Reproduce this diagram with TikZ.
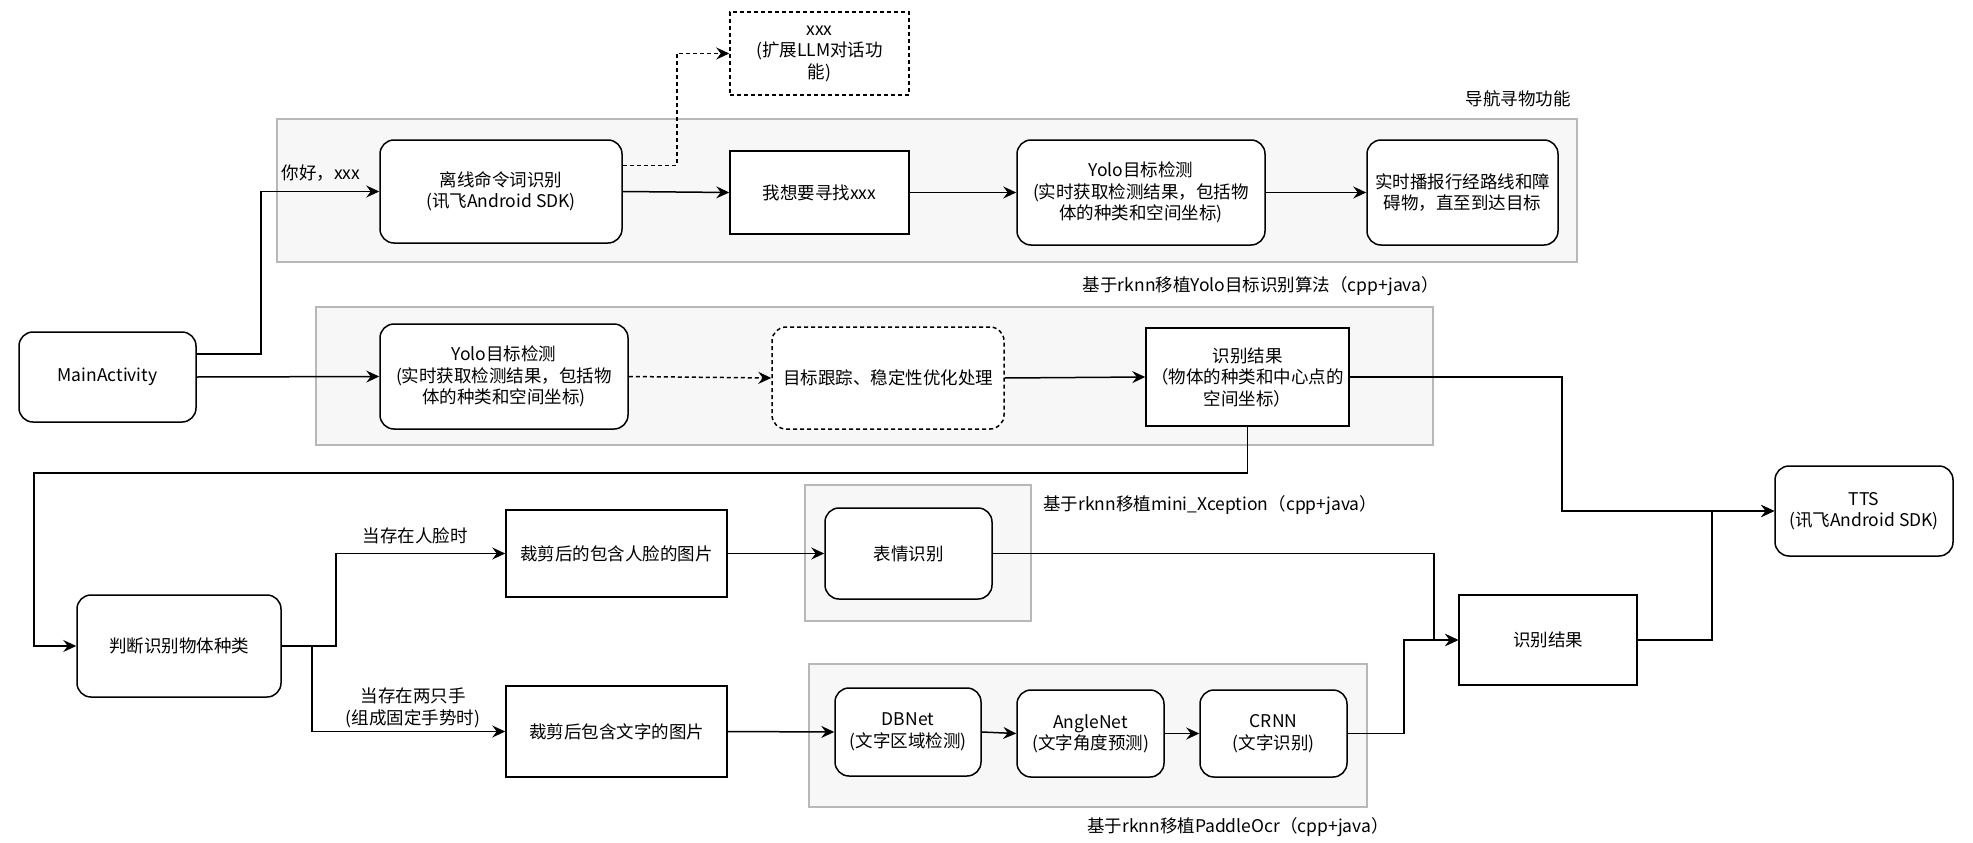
\documentclass[tikz,border=0pt]{standalone}
\usepackage{fontspec}
\setmainfont{Noto Sans CJK SC}
\usetikzlibrary{arrows.meta,calc}
\tikzset{
  box/.style={draw=black,line width=1.5pt,fill=white,align=center,inner sep=2pt},
  rbox/.style={box,rounded corners=14pt},
  dbox/.style={box,dash pattern=on 4pt off 3pt},
  bg/.style={draw=black!28,line width=1.5pt,fill=black!3},
  conn/.style={line width=1.5pt},
  arr/.style={conn,-{Stealth[length=13pt,width=12pt,inset=4.5pt]}},
  darr/.style={arr,dash pattern=on 4pt off 3pt},
  lbl/.style={align=center,inner sep=0pt},
}
\begin{document}
\begin{tikzpicture}[x=1pt,y=-1pt,font=\fontsize{17.5}{21.5}\selectfont]
\useasboundingbox[fill=white] (0,0) rectangle (1973,843);
% background groups
\draw[bg] (277,119) rectangle (1577,262);
\draw[bg] (316,307) rectangle (1433,445);
\draw[bg] (805,485) rectangle (1031,621);
\draw[bg] (809,664) rectangle (1367,807);
% nodes
\node[dbox,minimum width=179pt,minimum height=83pt] (xxx) at (819.5,53.5) {xxx\\(扩展LLM对话功\\能)};
\node[rbox,minimum width=242pt,minimum height=103pt] (cmd) at (501,191.5) {离线命令词识别\\(讯飞Android SDK)};
\node[box,minimum width=179pt,minimum height=83pt] (find) at (819.5,192.5) {我想要寻找xxx};
\node[rbox,minimum width=248pt,minimum height=105pt] (yolo1) at (1141,192.5) {Yolo目标检测\\(实时获取检测结果，包括物\\体的种类和空间坐标)};
\node[rbox,minimum width=191pt,minimum height=105pt] (report) at (1462.5,192.5) {实时播报行经路线和障\\碍物，直至到达目标};
\node[rbox,minimum width=177pt,minimum height=90pt] (main) at (107.5,377) {MainActivity};
\node[rbox,minimum width=248pt,minimum height=105pt] (yolo2) at (504,376.5) {Yolo目标检测\\(实时获取检测结果，包括物\\体的种类和空间坐标)};
\node[dbox,rounded corners=14pt,minimum width=232pt,minimum height=102pt] (track) at (888,378) {目标跟踪、稳定性优化处理};
\node[box,minimum width=203pt,minimum height=98pt] (res1) at (1247.5,377) {识别结果\\（物体的种类和中心点的\\空间坐标）};
\node[rbox,minimum width=178pt,minimum height=90pt] (tts) at (1864,511) {TTS\\(讯飞Android SDK)};
\node[rbox,minimum width=204pt,minimum height=102pt] (judge) at (179,646) {判断识别物体种类};
\node[box,minimum width=221pt,minimum height=87pt] (face) at (616.5,553.5) {裁剪后的包含人脸的图片};
\node[rbox,minimum width=167pt,minimum height=91pt] (emo) at (908.5,553.5) {表情识别};
\node[box,minimum width=178pt,minimum height=90pt] (res2) at (1548,640) {识别结果};
\node[box,minimum width=221pt,minimum height=91pt] (txt) at (616.5,731.5) {裁剪后包含文字的图片};
\node[rbox,minimum width=146pt,minimum height=88pt] (db) at (908,732) {DBNet\\(文字区域检测)};
\node[rbox,minimum width=147pt,minimum height=87pt] (angle) at (1090.5,733.5) {AngleNet\\(文字角度预测)};
\node[rbox,minimum width=147pt,minimum height=87pt] (crnn) at (1273.5,733.5) {CRNN\\(文字识别)};
% labels
\node[lbl] (l1) at (321,173) {你好，xxx};
\node[lbl] (l2) at (1518,99) {导航寻物功能};
\node[lbl] (l3) at (1261,286) {基于rknn移植Yolo目标识别算法（cpp+java）};
\node[lbl,anchor=west] (l4) at (1043,505) {基于rknn移植mini\_Xception（cpp+java）};
\node[lbl] (l5) at (1238,827) {基于rknn移植PaddleOcr（cpp+java）};
\node[lbl] (l6) at (415,536) {当存在人脸时};
\node[lbl] (l7) at (413,708) {当存在两只手\\(组成固定手势时)};
% connectors
\coordinate (fb) at (34,473);
\draw[arr] ($(main.north east)!0.25!(main.south east)$) -- ++(64,0) |- (cmd.west);
\draw[arr] (main.east) -- (yolo2.west);
\draw[arr] (cmd.east) -- (find.west);
\draw[darr] ($(cmd.north east)!0.25!(cmd.south east)$) -- ++(54,0) |- (xxx.west);
\draw[arr] (find.east) -- (yolo1.west);
\draw[arr] (yolo1.east) -- (report.west);
\draw[darr] (yolo2.east) -- (track.west);
\draw[arr] (track.east) -- (res1.west);
\draw[arr] (res1.east) -- ++(212,0) |- (tts.west);
\draw[arr] (res1.south) |- (fb) |- (judge.west);
\draw[arr] (judge.east) -- ++(54,0) |- (face.west);
\draw[arr] (judge.east) -- ++(30,0) |- (txt.west);
\draw[arr] (face.east) -- (emo.west);
\draw[arr] (emo.east) -- ++(441,0) |- (res2.west);
\draw[arr] (txt.east) -- (db.west);
\draw[arr] (db.east) -- (angle.west);
\draw[arr] (angle.east) -- (crnn.west);
\draw[arr] (crnn.east) -- ++(56,0) |- (res2.west);
\draw[arr] (res2.east) -- ++(74,0) |- (tts.west);
\end{tikzpicture}
\end{document}
